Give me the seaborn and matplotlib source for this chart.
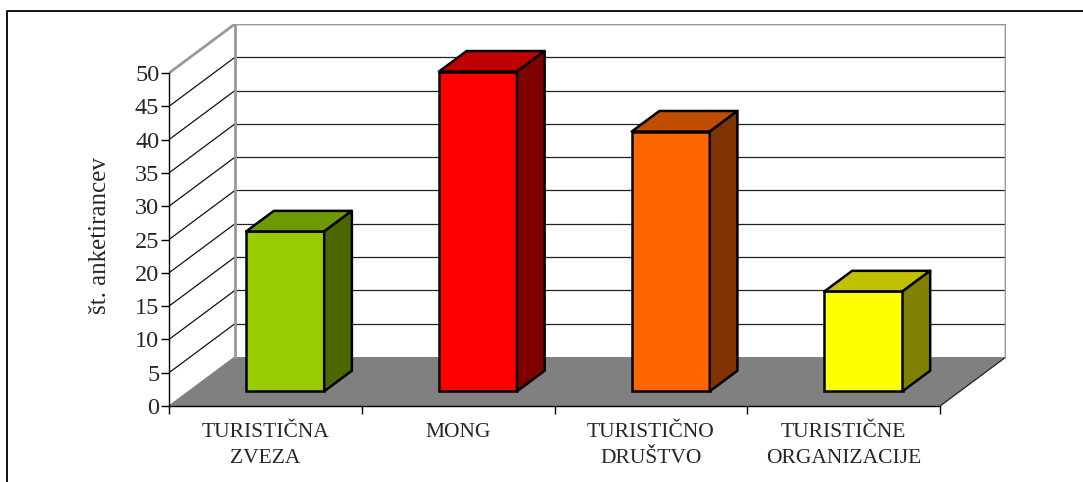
import matplotlib
matplotlib.use("Agg")
import matplotlib.pyplot as plt
from matplotlib.patches import Polygon
from matplotlib.lines import Line2D
import seaborn as sns

# survey data
categories = ["TURISTIČNA\nZVEZA", "MONG", "TURISTIČNO\nDRUŠTVO", "TURISTIČNE\nORGANIZACIJE"]
values = [24, 48, 39, 15]
front_colors = ["#99CC00", "#FF0000", "#FF6600", "#FFFF00"]
top_colors = ["#6E9900", "#C00000", "#C04C00", "#C0C000"]
side_colors = ["#4C6600", "#800000", "#803300", "#808000"]
y_ticks = list(range(0, 55, 5))
y_label = "št. anketirancev"

# oblique depth of the floor, in data units
DX, DY = 0.342, 7.36
FRONT, BACK = 0.30, 0.72   # depth fractions of the bar faces
BAR_W = 0.405
YMAX = 50
EDGE_LW = 1.8

sns.set_theme(style="white")
plt.rcParams["font.family"] = ["Liberation Serif", "DejaVu Serif"]

W, H = 1083, 482
fig = plt.figure(figsize=(W / 100, H / 100), dpi=100)
ax = fig.add_axes([169 / W, (H - 406) / H, (1006 - 169) / W, (406 - 24) / H])

sns.barplot(x=categories, y=values, hue=categories, palette=front_colors,
            width=BAR_W, edgecolor="black", linewidth=EDGE_LW, saturation=1,
            legend=False, ax=ax, zorder=4)

n = len(categories)
x0, x1 = -0.5, n - 0.5
ax.set_xlim(x0, x1 + DX)
ax.set_ylim(0, YMAX + DY)

# floor and walls
ax.add_patch(Polygon([(x0, 0), (x1, 0), (x1 + DX, DY), (x0 + DX, DY)],
                     closed=True, facecolor="#808080", edgecolor="none", zorder=0.5))
ax.add_line(Line2D([x1, x1 + DX], [0, DY], color="#202020", lw=0.9, zorder=0.7))
ax.add_patch(Polygon([(x0 + DX, DY), (x1 + DX, DY), (x1 + DX, YMAX + DY), (x0 + DX, YMAX + DY)],
                     closed=True, facecolor="white", edgecolor="none", zorder=0.5))
for v in y_ticks[1:-1]:
    ax.add_line(Line2D([x0 + DX, x1 + DX], [v + DY, v + DY], color="#222222", lw=0.9, zorder=0.6))
    ax.add_line(Line2D([x0, x0 + DX], [v, v + DY], color="#111111", lw=0.9, zorder=0.6))
ax.add_line(Line2D([x0, x0 + DX], [0, DY], color="#808080", lw=0.9, zorder=0.6))
wall_edge = dict(color="#999999", lw=2.0, zorder=0.8, solid_capstyle="projecting")
ax.add_line(Line2D([x0, x0 + DX, x1 + DX, x1 + DX], [YMAX, YMAX + DY, YMAX + DY, DY], **wall_edge))
ax.add_line(Line2D([x0 + DX, x0 + DX], [DY, YMAX + DY], **wall_edge))

# front faces come from the barplot; push them back onto the floor, then add top and side
bars = sorted(ax.patches[:n], key=lambda p: p.get_x())
fx, fy = FRONT * DX, FRONT * DY
bx, by = (BACK - FRONT) * DX, (BACK - FRONT) * DY
for i, p in enumerate(bars):
    left = p.get_x() + fx
    p.set_x(left)
    p.set_y(fy)
    right = left + p.get_width()
    top = fy + p.get_height()
    ax.add_patch(Polygon([(left, top), (right, top), (right + bx, top + by), (left + bx, top + by)],
                         closed=True, facecolor=top_colors[i], edgecolor="black",
                         lw=EDGE_LW, joinstyle="round", zorder=4))
    ax.add_patch(Polygon([(right, fy), (right + bx, fy + by), (right + bx, top + by), (right, top)],
                         closed=True, facecolor=side_colors[i], edgecolor="black",
                         lw=EDGE_LW, joinstyle="round", zorder=4))

# axes lines and ticks
for s in ["top", "right"]:
    ax.spines[s].set_visible(False)
ax.spines["left"].set_bounds(0, YMAX)
ax.spines["bottom"].set_bounds(x0, x1)
for s in ["left", "bottom"]:
    ax.spines[s].set_color("black")
    ax.spines[s].set_linewidth(1.0)
    ax.spines[s].set_zorder(5)

ax.set_yticks(y_ticks)
ax.set_yticklabels([str(v) for v in y_ticks])
ax.tick_params(axis="y", direction="out", length=6, width=1, color="black",
               pad=1, labelsize=17.5, left=True)
ax.set_xticks(range(n))
ax.set_xticklabels(categories, linespacing=1.55)
ax.set_xticks([x0 + k for k in range(n + 1)], minor=True)
ax.tick_params(axis="x", which="major", length=0, pad=12, labelsize=15.5)
ax.tick_params(axis="x", which="minor", direction="out", length=6, width=1,
               color="black", bottom=True)
ax.set_xlabel("")
ax.set_ylabel("")
ax.grid(False)

fig.text(100 / W, 1 - 236 / H, y_label, rotation=90, ha="center", va="center", fontsize=18)

# outer frame
fig.add_artist(Line2D([7 / W, 7 / W, 1.0], [0.0, 1 - 11 / H, 1 - 11 / H],
                      color="black", lw=1.3, transform=fig.transFigure))

fig.savefig("out.png", dpi=100)
